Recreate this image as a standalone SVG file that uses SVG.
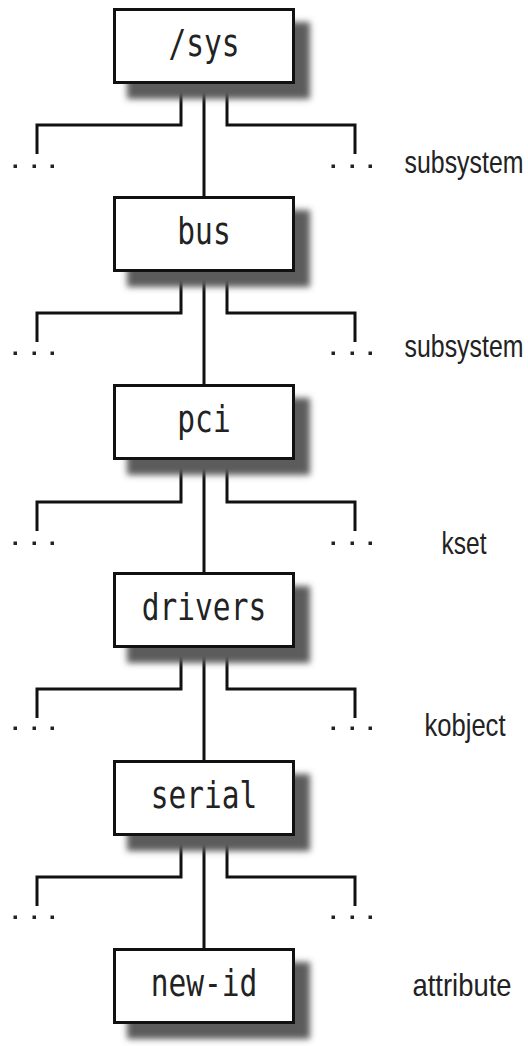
<svg xmlns="http://www.w3.org/2000/svg" width="528" height="1046" viewBox="0 0 528 1046">
<defs>
<filter id="blur" x="-20%" y="-30%" width="140%" height="160%"><feGaussianBlur stdDeviation="3.2"/></filter>
<g id="dots"><rect x="-1.5" y="-1.5" width="3.5" height="3.5"/><rect x="17.5" y="-1.5" width="3.5" height="3.5"/><rect x="35.5" y="-1.5" width="3.5" height="3.5"/></g>
</defs>
<style>
.shadow{fill:#5c5c5c;filter:url(#blur)}
.box{fill:#fff;stroke:#111;stroke-width:3}
.mono{font-family:"DejaVu Sans Mono","Liberation Mono",monospace;font-size:29.5px;fill:#222;text-anchor:middle}
.lab{font-family:"Liberation Sans","DejaVu Sans",sans-serif;font-size:24px;fill:#222;text-anchor:middle}
.c{fill:none;stroke:#111;stroke-width:3;stroke-linejoin:miter}
.d{fill:#222}
</style>
<rect width="528" height="1046" fill="#fff"/>
<g id="connectors">
<path class="c" d="M204 84V196M181 84V125H37V154M227 84V125H355V154"/>
<path class="c" d="M204 272V384M181 272V313H37V342M227 272V313H355V342"/>
<path class="c" d="M204 460V572M181 460V502H37V531M227 460V502H355V531"/>
<path class="c" d="M204 648V760M181 648V689H37V718M227 648V689H355V718"/>
<path class="c" d="M204 836V948M181 836V877H37V906M227 836V877H355V906"/>
<g class="d">
<use href="#dots" x="15" y="166"/><use href="#dots" x="333" y="166"/>
<use href="#dots" x="15" y="353"/><use href="#dots" x="333" y="353"/>
<use href="#dots" x="15" y="543"/><use href="#dots" x="333" y="543"/>
<use href="#dots" x="15" y="728"/><use href="#dots" x="333" y="728"/>
<use href="#dots" x="15" y="917"/><use href="#dots" x="333" y="917"/>
</g>
</g>
<g id="node-sys"><rect class="shadow" x="127" y="22" width="183" height="77"/><rect class="box" x="114.5" y="9.5" width="179" height="73"/><text class="mono" transform="translate(204 56) scale(1 1.25)">/sys</text></g>
<g id="node-bus"><rect class="shadow" x="127" y="210" width="183" height="77"/><rect class="box" x="114.5" y="197.5" width="179" height="73"/><text class="mono" transform="translate(204 244) scale(1 1.25)">bus</text></g>
<g id="node-pci"><rect class="shadow" x="127" y="398" width="183" height="77"/><rect class="box" x="114.5" y="385.5" width="179" height="73"/><text class="mono" transform="translate(204 432) scale(1 1.25)">pci</text></g>
<g id="node-drivers"><rect class="shadow" x="127" y="586" width="183" height="77"/><rect class="box" x="114.5" y="573.5" width="179" height="73"/><text class="mono" transform="translate(204 620) scale(1 1.25)">drivers</text></g>
<g id="node-serial"><rect class="shadow" x="127" y="774" width="183" height="77"/><rect class="box" x="114.5" y="761.5" width="179" height="73"/><text class="mono" transform="translate(204 808) scale(1 1.25)">serial</text></g>
<g id="node-newid"><rect class="shadow" x="127" y="962" width="183" height="77"/><rect class="box" x="114.5" y="949.5" width="179" height="73"/><text class="mono" transform="translate(204 996) scale(1 1.25)">new-id</text></g>
<g id="labels">
<text class="lab" transform="translate(464 173) scale(1 1.3)" textLength="119" lengthAdjust="spacingAndGlyphs">subsystem</text>
<text class="lab" transform="translate(464 357) scale(1 1.3)" textLength="119" lengthAdjust="spacingAndGlyphs">subsystem</text>
<text class="lab" transform="translate(464 554) scale(1 1.3)" textLength="45" lengthAdjust="spacingAndGlyphs">kset</text>
<text class="lab" transform="translate(465 736) scale(1 1.3)" textLength="81" lengthAdjust="spacingAndGlyphs">kobject</text>
<text class="lab" transform="translate(462 996) scale(1 1.3)" textLength="99" lengthAdjust="spacingAndGlyphs">attribute</text>
</g>
</svg>
